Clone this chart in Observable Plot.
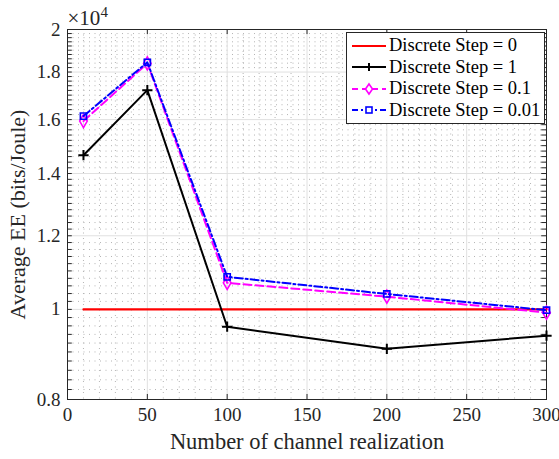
<!DOCTYPE html>
<html>
<head>
<meta charset="utf-8">
<script src="https://cdn.jsdelivr.net/npm/d3@7"></script>
<script src="https://cdn.jsdelivr.net/npm/@observablehq/plot@0.6"></script>
<style>
  html, body { margin: 0; padding: 0; background: #fff; }
  #wrap { position: relative; width: 559px; height: 459px; font-family: "Liberation Serif", "Times New Roman", Times, "DejaVu Serif", serif; }
  #wrap svg text { font-family: "Liberation Serif", "Times New Roman", Times, "DejaVu Serif", serif; }
  #legend { position: absolute; left: 346px; top: 32px; width: 199px; background: #fff; border: 1px solid #262626; box-sizing: border-box; padding: 2px 0 2px 0; }
  .row { display: flex; align-items: center; height: 21.5px; font-size: 18.5px; color: #000; white-space: nowrap; }
  .row svg { flex: none; margin-left: 4px; margin-right: 2px; }
</style>
</head>
<body>
<div id="wrap"></div>
<script>
// ---- data (values in units of 10^4 bits/Joule) ----
const realizations = [10, 50, 100, 200, 300];
const step0 = [1.0, 1.0, 1.0, 1.0, 1.0];
const step1 = [1.465, 1.721, 0.958, 0.907, 0.937];
const step01 = [1.594, 1.839, 1.068, 1.032, 0.992];
const step001 = [1.614, 1.844, 1.084, 1.039, 0.998];
const seriesNames = ["Discrete Step = 0", "Discrete Step = 1", "Discrete Step = 0.1", "Discrete Step = 0.01"];
const xTicks = [0, 50, 100, 150, 200, 250, 300];
const yTicks = [0.8, 1, 1.2, 1.4, 1.6, 1.8, 2];
const yTickLabels = ["0.8", "1", "1.2", "1.4", "1.6", "1.8", "2"];

const toRows = (vals) => realizations.map((x, i) => ({x, y: vals[i]}));
const d0 = toRows(step0), d1 = toRows(step1), d01 = toRows(step01), d001 = toRows(step001);
const yLabelRows = yTicks.map((t, i) => ({y: t, label: yTickLabels[i]}));

const xMinor = d3.range(0, 301, 10).filter(v => v % 50 !== 0);
const yMinorAll = d3.range(0, 61).map(i => +(0.8 + i * 0.02).toFixed(2));
const yMinor = yMinorAll.filter(v => !yTicks.some(t => Math.abs(t - v) < 1e-9));

const axisColor = "#262626";
const font = "'Liberation Serif', 'Times New Roman', Times, 'DejaVu Serif', serif";

const chart = Plot.plot({
  width: 559,
  height: 459,
  marginLeft: 67,
  marginRight: 13,
  marginTop: 29,
  marginBottom: 60,
  style: {fontFamily: font, color: axisColor, background: "#fff", overflow: "visible"},
  x: {domain: [0, 300]},
  y: {type: "log", domain: [0.8, 2], axis: null},
  marks: [
    // minor dotted grid
    Plot.ruleX(xMinor, {x: d => d, stroke: "#b4b4b4", strokeWidth: 1, strokeDasharray: "1,4.5"}),
    Plot.ruleY(yMinor, {y: d => d, stroke: "#b4b4b4", strokeWidth: 1, strokeDasharray: "1,4.5"}),
    // major grid
    Plot.ruleX(xTicks, {x: d => d, stroke: "#e0e0e0", strokeWidth: 1}),
    Plot.ruleY(yTicks, {y: d => d, stroke: "#e0e0e0", strokeWidth: 1}),
    // inward tick marks
    Plot.ruleY(yMinorAll, {y: d => d, x1: 0, x2: 3, stroke: axisColor, strokeWidth: 1}),
    Plot.ruleY(yMinorAll, {y: d => d, x1: 297, x2: 300, stroke: axisColor, strokeWidth: 1}),
    Plot.ruleX(xTicks, {x: d => d, y1: 0.8, y2: 0.81, stroke: axisColor, strokeWidth: 1}),
    Plot.ruleX(xTicks, {x: d => d, y1: 2, y2: 1.975, stroke: axisColor, strokeWidth: 1}),
    // axes
    Plot.axisX({ticks: xTicks, tickSize: 0, tickPadding: 8, fontSize: 19, tickFormat: d => String(d), label: null}),
    Plot.text(yLabelRows, {x: 0, y: "y", text: "label", dx: -7, textAnchor: "end", fontSize: 19, fill: axisColor}),
    Plot.frame({stroke: axisColor, strokeWidth: 1}),
    // series
    Plot.line(d0, {x: "x", y: "y", stroke: "#ff0000", strokeWidth: 2.2}),
    Plot.line(d1, {x: "x", y: "y", stroke: "#000000", strokeWidth: 2}),
    Plot.dot(d1, {x: "x", y: "y", symbol: "plus", r: 3.4, stroke: "#000000", strokeWidth: 2}),
    Plot.line(d01, {x: "x", y: "y", stroke: "#ff00ff", strokeWidth: 2, strokeDasharray: "8,4"}),
    Plot.dot(d01, {x: "x", y: "y", symbol: "diamond", r: 4, stroke: "#ff00ff", strokeWidth: 1.6, fill: "none"}),
    Plot.line(d001, {x: "x", y: "y", stroke: "#0000ff", strokeWidth: 2, strokeDasharray: "8,3,2,3"}),
    Plot.dot(d001, {x: "x", y: "y", symbol: "square", r: 3.5, stroke: "#0000ff", strokeWidth: 1.6, fill: "none"}),
    // axis labels
    Plot.text(["Number of channel realization"], {frameAnchor: "bottom", dy: 49, fontSize: 22.5, fill: axisColor, text: d => d}),
    Plot.text(["Average EE (bits/Joule)"], {frameAnchor: "left", textAnchor: "middle", dx: -50, rotate: -90, fontSize: 22, fill: axisColor, text: d => d}),
    Plot.text(["×10"], {frameAnchor: "top-left", dx: 0, dy: -5, textAnchor: "start", lineAnchor: "bottom", fontSize: 21, fill: axisColor, text: d => d}),
    Plot.text(["4"], {frameAnchor: "top-left", dx: 33, dy: -13, textAnchor: "start", lineAnchor: "bottom", fontSize: 15, fill: axisColor, text: d => d})
  ]
});

const wrap = document.getElementById("wrap");
wrap.appendChild(chart);

// legend overlay
const styles = [
  {color: "#ff0000", dash: null, marker: null},
  {color: "#000000", dash: null, marker: "plus"},
  {color: "#ff00ff", dash: "6,4", marker: "diamond"},
  {color: "#0000ff", dash: "6,3,2,3", marker: "square"}
];
const legend = document.createElement("div");
legend.id = "legend";
seriesNames.forEach((name, i) => {
  const s = styles[i];
  const row = document.createElement("div");
  row.className = "row";
  const w = 36, h = 14, cy = 7;
  let marker = "";
  if (s.marker === "plus") marker = `<path d="M${w/2-4},${cy}H${w/2+4}M${w/2},${cy-4}V${cy+4}" stroke="${s.color}" stroke-width="2"/>`;
  if (s.marker === "diamond") marker = `<path d="M${w/2},${cy-5}L${w/2+3.5},${cy}L${w/2},${cy+5}L${w/2-3.5},${cy}Z" stroke="${s.color}" stroke-width="1.6" fill="#fff"/>`;
  if (s.marker === "square") marker = `<rect x="${w/2-3}" y="${cy-3}" width="6" height="6" stroke="${s.color}" stroke-width="1.6" fill="#fff"/>`;
  row.innerHTML = `<svg width="${w}" height="${h}"><line x1="1" x2="${w-1}" y1="${cy}" y2="${cy}" stroke="${s.color}" stroke-width="2" ${s.dash ? `stroke-dasharray="${s.dash}"` : ""}/>${marker}</svg><span>${name}</span>`;
  legend.appendChild(row);
});
wrap.appendChild(legend);
</script>
</body>
</html>
